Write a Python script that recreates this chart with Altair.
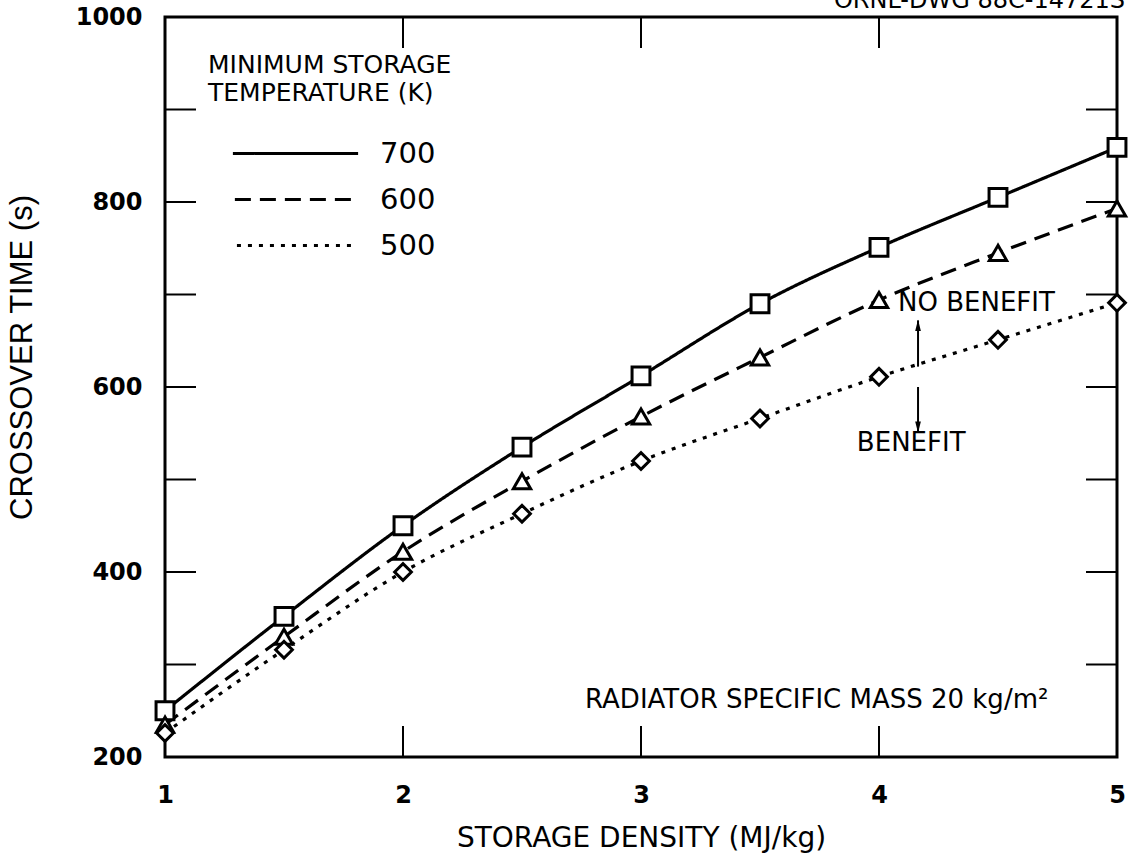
import altair as alt
import pandas as pd

# ---- data ----
x_vals = [1, 1.5, 2, 2.5, 3, 3.5, 4, 4.5, 5]
t700 = [250, 352, 450, 535, 612, 690, 751, 805, 859]
t600 = [235, 330, 422, 498, 568, 632, 694, 745, 793]
t500 = [226, 316, 400, 463, 520, 566, 611, 651, 691]
series_names = ["700", "600", "500"]
series_shapes = ["square", "triangle-up", "diamond"]
series_dash = [[1, 0], [16, 9], [4, 7]]
series_sizes = [320, 280, 330]

x_tick_vals = [1, 2, 3, 4, 5]
y_label_vals = [200, 400, 600, 800, 1000]
inner_x_ticks = [2, 3, 4]
inner_y_ticks = [300, 400, 500, 600, 700, 800, 900]

ann_text = ["NO BENEFIT", "BENEFIT", "RADIATOR SPECIFIC MASS 20 kg/m²"]
ann_x = [4.08, 3.907, 2.765]
ann_y = [691, 539, 262]

arrow_x = [4.164, 4.164]
arrow_from = [622, 600]
arrow_to = [672, 551]
head_y = [665, 558]
head_dir = ["up", "down"]

stamp = "ORNL-DWG 88C-14721S"

FONT = "DejaVu Sans"

df = pd.DataFrame({
    "x": x_vals * 3,
    "v": t700 + t600 + t500,
    "T": [series_names[0]] * 9 + [series_names[1]] * 9 + [series_names[2]] * 9,
})
df_pts = df.rename(columns={"T": "S"})

xs = alt.Scale(domain=[1, 5], nice=False, zero=False)
ys = alt.Scale(domain=[200, 1000], nice=False, zero=False)

X = alt.X("x:Q", scale=xs, axis=alt.Axis(
    values=x_tick_vals, format="d", title="STORAGE DENSITY (MJ/kg)",
    grid=False, ticks=False, tickSize=0, domain=False, labelFlush=False,
    labelFont=FONT, labelFontSize=24, labelFontWeight="bold", labelColor="black",
    labelPadding=26, labelBaseline="top",
    titleFont=FONT, titleFontSize=28, titleFontWeight="normal", titleColor="black",
    titleX=476, titleY=81, titleBaseline="middle", titleAlign="center", titleAnchor="middle"))
Y = alt.Y("v:Q", scale=ys, axis=alt.Axis(
    values=y_label_vals, format="d", title="CROSSOVER TIME (s)",
    grid=False, ticks=False, tickSize=0, domain=False, labelFlush=False,
    labelFont=FONT, labelFontSize=24, labelFontWeight="bold", labelColor="black",
    labelPadding=23,
    titleFont="Liberation Sans", titleFontSize=31, titleFontWeight="normal", titleColor="black",
    titleX=-143, titleY=340, titleAngle=270, titleBaseline="middle", titleAlign="center",
    titleAnchor="middle", titleLimit=600))

legend = alt.Legend(
    title=["MINIMUM STORAGE", "TEMPERATURE (K)"], orient="none", legendX=43, legendY=36,
    symbolType="M-7,0H7", symbolSize=900, symbolStrokeWidth=3.2, symbolStrokeColor="black",
    symbolOffset=73, labelOffset=70, padding=0, rowPadding=16, titlePadding=33,
    labelFont=FONT, labelFontSize=29, labelColor="black",
    titleFont=FONT, titleFontSize=25, titleFontWeight="normal", titleColor="black",
    titleLineHeight=28, titleLimit=500, labelLimit=200)

lines = alt.Chart(df).mark_line(color="black", strokeWidth=3.2, interpolate="monotone").encode(
    x=X, y=Y,
    strokeDash=alt.StrokeDash("T:N", scale=alt.Scale(domain=series_names, range=series_dash),
                              sort=series_names, legend=legend),
)

points = alt.Chart(df_pts).mark_point(filled=True, fill="white", stroke="black", strokeWidth=3,
                                      opacity=1).encode(
    x="x:Q", y="v:Q",
    shape=alt.Shape("S:N", scale=alt.Scale(domain=series_names, range=series_shapes), legend=None),
    size=alt.Size("S:O", scale=alt.Scale(domain=series_names, range=series_sizes), legend=None),
)

ticks_bottom = alt.Chart(pd.DataFrame({"x": inner_x_ticks})).mark_rule(color="black", strokeWidth=2).encode(
    x="x:Q", y=alt.value(740), y2=alt.value(709))
ticks_top = alt.Chart(pd.DataFrame({"x": inner_x_ticks})).mark_rule(color="black", strokeWidth=2).encode(
    x="x:Q", y=alt.value(0), y2=alt.value(31))
ticks_left = alt.Chart(pd.DataFrame({"v": inner_y_ticks})).mark_rule(color="black", strokeWidth=2).encode(
    y="v:Q", x=alt.value(0), x2=alt.value(31))
ticks_right = alt.Chart(pd.DataFrame({"v": inner_y_ticks})).mark_rule(color="black", strokeWidth=2).encode(
    y="v:Q", x=alt.value(921), x2=alt.value(952))

ann = alt.Chart(pd.DataFrame({"x": ann_x, "v": ann_y, "label": ann_text})).mark_text(
    align="left", baseline="middle", font=FONT, fontSize=26, color="black").encode(
    x="x:Q", y="v:Q", text="label:N")

arrows = alt.Chart(pd.DataFrame({"x": arrow_x, "v": arrow_from, "v2": arrow_to})).mark_rule(
    color="black", strokeWidth=2).encode(x="x:Q", y="v:Q", y2="v2:Q")
heads = alt.Chart(pd.DataFrame({"x": arrow_x, "v": head_y, "d": head_dir})).mark_point(
    filled=True, color="black", opacity=1, size=200).encode(
    x="x:Q", y="v:Q",
    shape=alt.Shape("d:N", scale=alt.Scale(domain=["up", "down"],
                                           range=["M0,-1L0.4,0.6L-0.4,0.6Z", "M0,1L0.4,-0.6L-0.4,-0.6Z"]),
                    legend=None))

stamp_layer = alt.Chart(pd.DataFrame({"s": [stamp]})).mark_text(
    align="right", baseline="alphabetic", font=FONT, fontSize=24, color="black").encode(
    text="s:N", x=alt.value(960), y=alt.value(-9))

chart = alt.layer(lines, points, ticks_bottom, ticks_top, ticks_left, ticks_right,
                  ann, arrows, heads, stamp_layer).resolve_scale(shape="independent").properties(
    width=952, height=740,
    padding={"left": 165, "top": 17, "right": 18, "bottom": 102},
    autosize=alt.AutoSizeParams(type="none"),
    background="white",
).configure_view(stroke="black", strokeWidth=3)

chart.save("out.html", embed_options={"renderer": "svg", "actions": False})
